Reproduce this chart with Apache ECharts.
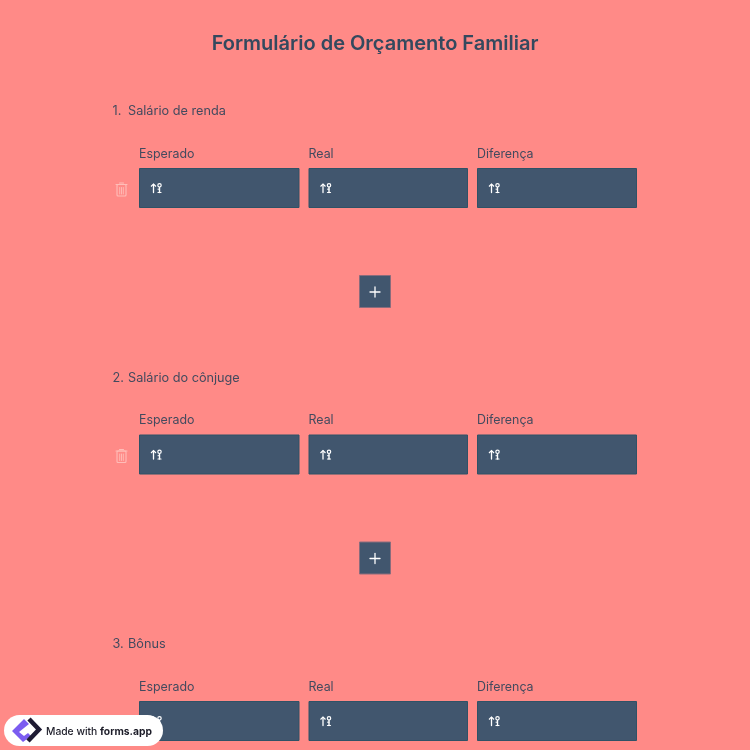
<!DOCTYPE html>
<html><head><meta charset="utf-8">
<style>html,body{margin:0;padding:0;background:#FF8A87}#c{width:750px;height:750px}</style>
<script src="https://cdn.jsdelivr.net/npm/echarts@6/dist/echarts.min.js"></script>
</head><body><div id="c"></div>
<script>
const titleText = 'Formulário de Orçamento Familiar';
const sectionNumbers = ['1.', '2.', '3.'];
const sections = ['Salário de renda', 'Salário do cônjuge', 'Bônus'];
const columns = ['Esperado', 'Real', 'Diferença'];
const badgeText = ['Made with ', 'forms.app'];

const BG = '#FF8A87', BOX = '#41566E', BORDER = '#2F5266', INK = '#434A5E', TITLE = '#34495E';
const F = 'Inter, "Noto Sans", sans-serif';
const sectionY = [0, 266.5, 533];
const colX = [139, 308.5, 477], colW = [160.5, 159.5, 160];

function txt(x, y, t, size, color, weight, align) {
  return {type:'text', x, y, silent:true, style:{text:t, fontFamily:F, fontSize:size, fontWeight:weight||400, fill:color, align:align||'left', verticalAlign:'middle'}};
}
function line(x1,y1,x2,y2,color,w){
  return {type:'line', silent:true, shape:{x1,y1,x2,y2}, style:{stroke:color, lineWidth:w, lineCap:'round'}};
}
function glyph(x, y){
  const W='#ffffff';
  return [
    line(x+2.5,y-3.5,x+2.5,y+4.5,W,1.3),
    {type:'polyline',silent:true,shape:{points:[[x,y-1.5],[x+2.5,y-4],[x+5,y-1.5]]},style:{stroke:W,fill:'none',lineWidth:1.2}},
    {type:'circle',silent:true,shape:{cx:x+8.5,cy:y-2.7,r:1.7},style:{stroke:W,fill:'none',lineWidth:1.2}},
    line(x+8.5,y-0.5,x+8.5,y+4.5,W,1.4),
    line(x+7,y+4.5,x+10,y+4.5,W,1.2),
    line(x+7,y+1.2,x+8.5,y+1.2,W,1)
  ];
}
function trash(x, y){
  const C='#FFBDB8';
  return [
    line(x-5.5,y-5,x+5.5,y-5,C,1.1),
    line(x-2,y-6.5,x+2,y-6.5,C,1.1),
    {type:'rect',silent:true,shape:{x:x-4.5,y:y-5,width:9,height:11.5,r:1},style:{stroke:C,fill:'none',lineWidth:1.1}},
    line(x-1.8,y-2,x-1.8,y+4.5,C,0.9),
    line(x,y-2,x,y+4.5,C,0.9),
    line(x+1.8,y-2,x+1.8,y+4.5,C,0.9)
  ];
}
const els = [];
els.push({type:'rect',silent:true,shape:{x:0,y:0,width:750,height:750},style:{fill:BG}});
els.push(txt(375,44,titleText,20,TITLE,600,'center'));
sections.forEach((s,i)=>{
  const o = sectionY[i];
  els.push(txt(112.5,111.5+o,sectionNumbers[i],12.7,INK,400));
  els.push(txt(128,111.5+o,s,12.7,INK,400));
  if(i<2) els.push(...trash(121.5,189.5+o));
  columns.forEach((c,j)=>{
    els.push(txt(colX[j],154+o,c,12.4,INK,400));
    els.push({type:'rect',silent:true,shape:{x:colX[j]+.5,y:168.5+o,width:colW[j]-1,height:39},style:{fill:BOX,stroke:BORDER,lineWidth:1}});
    els.push(...glyph(colX[j]+12,188+o));
  });
  if(i<2){
    els.push({type:'rect',silent:true,shape:{x:359.5,y:275.5+o,width:31,height:32},style:{fill:BOX,stroke:'#8A6C7C',lineWidth:1}});
    els.push(line(370,292+o,380,292+o,'#fff',1.3));
    els.push(line(375,287+o,375,297+o,'#fff',1.3));
  }
});
// badge
els.push({type:'rect',silent:true,shape:{x:4,y:715,width:159,height:31,r:15.5},style:{fill:'#fff'}});
els.push({type:'polygon',silent:true,shape:{points:[[12,731],[24,719],[29,724],[19,732],[24,736],[28,733],[31,736],[23,742]]},style:{fill:'#7B5CF0'}});
els.push({type:'polyline',silent:true,shape:{points:[[29,719],[39,729.5],[28,741]]},style:{stroke:'#1E1B33',fill:'none',lineWidth:4.5}});
els.push({type:'text',x:46,y:731.5,silent:true,style:{rich:{a:{fontFamily:F,fontSize:10.3,fontWeight:500,fill:'#1c1c28'},b:{fontFamily:F,fontSize:10.3,fontWeight:700,fill:'#1c1c28'}},text:'{a|'+badgeText[0]+'}{b|'+badgeText[1]+'}',verticalAlign:'middle'}});

const chart = echarts.init(document.getElementById('c'));
chart.setOption({animation:false, backgroundColor:BG, graphic:{elements:els}});
</script></body></html>
